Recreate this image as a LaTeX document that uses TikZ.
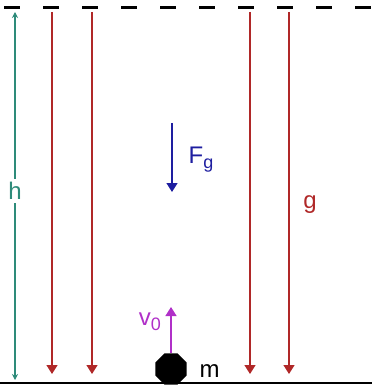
\documentclass[tikz,border=0pt]{standalone}
\usepackage{fontspec}
\setmainfont{Liberation Sans}
\usetikzlibrary{arrows.meta, shapes.geometric}
\definecolor{cteal}{HTML}{2E8B7A}
\definecolor{cred}{HTML}{B02828}
\definecolor{cblue}{HTML}{1E1EA0}
\definecolor{cpurple}{HTML}{B030C8}
\newcommand{\lowidx}[1]{\raisebox{-5pt}{\fontsize{18}{18}\selectfont #1}}
\tikzset{
  every picture/.style={x=1pt, y=-1pt, line width=1.3pt},
  lbl/.style={font=\fontsize{24}{24}\selectfont, inner sep=1pt},
  field/.style={draw=cred, -{Triangle[length=9pt, width=11pt]}},
  force/.style={draw=cblue, -{Triangle[length=9pt, width=11pt]}},
  speed/.style={draw=cpurple, -{Triangle[length=9pt, width=11pt]}},
  height/.style={draw=cteal, {Stealth[length=6pt, width=6pt]}-{Stealth[length=6pt, width=6pt]}},
  mass/.style={regular polygon, regular polygon sides=8, fill=black, minimum size=34pt, inner sep=0pt},
}

\begin{document}
\begin{tikzpicture}
  \useasboundingbox (0,0) rectangle (372,387);
  % top level and ground
  \draw[line width=3pt, dash pattern=on 16pt off 23pt] (4,8) -- (372,8);
  \draw[line width=2pt] (0,383) -- (372,383);
  % height
  \coordinate (htop) at (15,12);
  \coordinate (hbot) at (15,380);
  \draw[height] (htop) -- node[lbl, fill=white, text=cteal, inner sep=3pt, yshift=5pt] (h) {h} (hbot);
  % field lines
  \foreach \x [count=\i] in {52,92,250,289} {
    \coordinate (g\i top) at (\x,12);
    \coordinate (g\i bot) at (\x,374);
    \draw[field] (g\i top) -- (g\i bot);
  }
  \node[lbl, text=cred] (g) at (310,205) {g};
  % weight
  \coordinate (ftop) at (172,123);
  \coordinate (fbot) at (172,192);
  \draw[force] (ftop) -- (fbot);
  \node[lbl, text=cblue] (fg) at (201,160) {F\lowidx{g}};
  % mass and start speed
  \node[mass] (m) at (171,369) {};
  \node[lbl, anchor=west] (mlbl) at (198,371) {m};
  \coordinate (vtop) at (171,307);
  \draw[speed] (m.north) -- (vtop);
  \node[lbl, text=cpurple] (v0) at (150,322) {v\lowidx{0}};
\end{tikzpicture}
\end{document}
